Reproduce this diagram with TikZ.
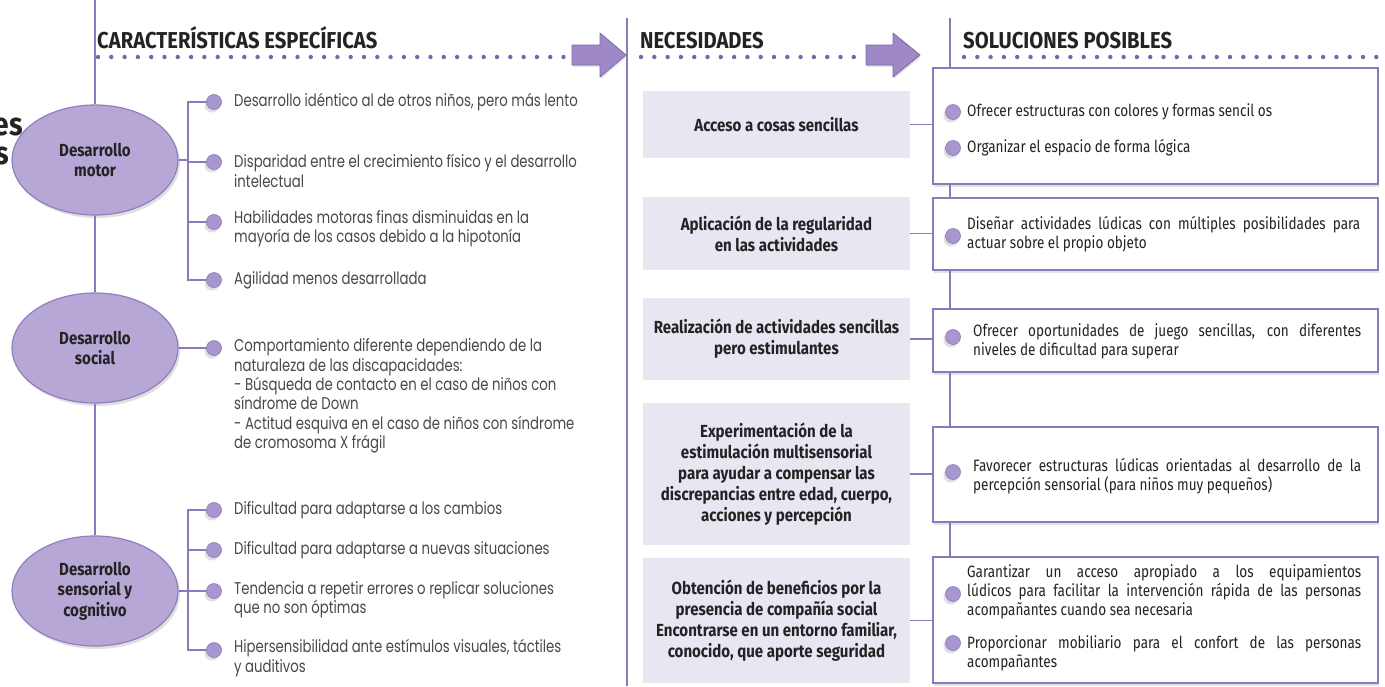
\documentclass[tikz,border=0pt]{standalone}
\usepackage{fontspec}
\setmainfont{Fira Sans}[FakeStretch=0.82]
\newfontfamily\geo{Poppins}[FakeStretch=0.78]
\newfontfamily\hfont{Fira Sans}[FakeStretch=0.88]
\newfontfamily\mfont{Fira Sans}[FakeStretch=0.86]
\usetikzlibrary{shapes.geometric,shadows,calc}
\definecolor{lineP}{RGB}{140,120,186}
\definecolor{ellF}{RGB}{183,167,214}
\definecolor{ellB}{RGB}{145,126,190}
\definecolor{bulF}{RGB}{168,150,208}
\definecolor{bulB}{RGB}{140,120,186}
\definecolor{boxF}{RGB}{233,230,242}
\definecolor{dotP}{RGB}{125,100,170}
\definecolor{arrF}{RGB}{158,137,198}
\definecolor{arrB}{RGB}{125,104,174}
\definecolor{txtG}{RGB}{72,72,72}
\definecolor{txtD}{RGB}{35,35,35}
\begin{document}
\begin{tikzpicture}[x=1pt,y=-1pt,
  conn/.style={draw=lineP, line width=1.6pt},
  ell/.style={ellipse, draw=ellB, line width=1.2pt, fill=ellF, minimum width=166pt, minimum height=110pt,
    inner sep=0pt, align=center, text=txtD, font=\mfont\fontsize{17.5}{20.5}\selectfont\bfseries,
    drop shadow={shadow xshift=2pt, shadow yshift=-3pt, opacity=0.25}},
  bul/.style={circle, fill=bulF, draw=bulB, line width=0.6pt, minimum size=15pt, inner sep=0pt,
    drop shadow={shadow xshift=-2pt, shadow yshift=-3pt, opacity=0.25}},
  itm/.style={anchor=west, inner sep=0pt, align=left, text=txtG, font=\geo\fontsize{17}{19.3}\selectfont},
  hdr/.style={anchor=base west, inner sep=0pt, text=txtD, font=\hfont\fontsize{23}{26}\selectfont\bfseries},
  mbox/.style={fill=boxF, minimum width=267pt, inner sep=0pt, align=center, text=txtD,
    font=\mfont\fontsize{17.5}{21}\selectfont\bfseries},
  rbox/.style={draw=lineP, line width=1.6pt, fill=white, minimum width=445pt, inner sep=0pt,
    drop shadow={shadow xshift=1pt, shadow yshift=-3pt, opacity=0.22}},
  rtxt/.style={anchor=west, inner sep=0pt, text=txtD, font=\fontsize{16.5}{19}\selectfont},
  dots/.style={draw=dotP, line width=4.4pt, line cap=round, dash pattern=on 0pt off 13.3pt},
  arr/.style={fill=arrF, draw=arrB, line width=0.8pt, line join=round,
    drop shadow={shadow xshift=1pt, shadow yshift=-2pt, opacity=0.2}}
]
\useasboundingbox (0,0) rectangle (1385,686);
\clip (0,0) rectangle (1385,686);
\fill[white] (0,0) rectangle (1385,686);

% clipped title fragment
\node[anchor=base east, inner sep=0pt, text=txtD, font=\hfont\fontsize{32}{30}\selectfont\bfseries] (tl1) at (23,135) {es};
\node[anchor=base east, inner sep=0pt, text=txtD, font=\hfont\fontsize{32}{30}\selectfont\bfseries] (tl2) at (9,164) {s};

% main vertical lines
\coordinate (ltop) at (95,0);
\coordinate (mtop) at (627,18);
\coordinate (mbot) at (627,686);
\coordinate (rtop) at (950,18);
\coordinate (br) at (188,0);
\draw[conn] (mtop) -- (mbot);

% headers and dotted rules
\node[hdr] (h1) at (97,48) {CARACTERÍSTICAS ESPECÍFICAS};
\node[hdr] (h2) at (640,48) {NECESIDADES};
\node[hdr] (h3) at (963,48) {SOLUCIONES POSIBLES};
\draw[dots] (98,57) -- (565,57);
\draw[dots] (641,57) -- (858,57);
\draw[dots] (964,57) -- (1392,57);

% block arrows
\coordinate (t1) at (626,55);
\coordinate (t2) at (920,55);
\filldraw[arr] (t1) -- ++(-26,-22) -- ++(0,12) -- ++(-28,0) -- ++(0,20) -- ++(28,0) -- ++(0,12) -- cycle;
\filldraw[arr] (t2) -- ++(-27,-22) -- ++(0,12) -- ++(-27,0) -- ++(0,20) -- ++(27,0) -- ++(0,12) -- cycle;

% ellipses
\node[ell] (e1) at (95,160) {Desarrollo\\motor};
\node[ell] (e2) at (95,348) {Desarrollo\\social};
\node[ell] (e3) at (95,591) {Desarrollo\\sensorial y\\cognitivo};
\draw[conn] (ltop) -- (e1.north);
\draw[conn] (e1.south) -- (e2.north);
\draw[conn] (e2.south) -- (e3.north);

% motor items
\node[bul] (a1) at (214,102) {};
\node[bul] (a2) at (214,162) {};
\node[bul] (a3) at (214,222) {};
\node[bul] (a4) at (214,280) {};
\draw[conn] (a1) -- (a1 -| br) |- (a4);
\draw[conn] (a2) -- (a2 -| br);
\draw[conn] (a3) -- (a3 -| br);
\draw[conn] (e1) -- (e1 -| br);
\node[itm] (ta1) at (234,102) {Desarrollo idéntico al de otros niños, pero más lento};
\node[itm] (ta2) at (234,171) {Disparidad entre el crecimiento físico y el desarrollo\\intelectual};
\node[itm] (ta3) at (234,229) {Habilidades motoras finas disminuidas en la\\mayoría de los casos debido a la hipotonía};
\node[itm] (ta4) at (234,280) {Agilidad menos desarrollada};

% social item
\node[bul] (b1) at (214,348) {};
\draw[conn] (e2) -- (b1);
\node[itm] (tb1) at (234,396) {Comportamiento diferente dependiendo de la\\naturaleza de las discapacidades:\\- Búsqueda de contacto en el caso de niños con\\síndrome de Down\\- Actitud esquiva en el caso de niños con síndrome\\de cromosoma X frágil};

% sensorial items
\node[bul] (c1) at (214,510) {};
\node[bul] (c2) at (214,550) {};
\node[bul] (c3) at (214,591) {};
\node[bul] (c4) at (214,650) {};
\draw[conn] (c1) -- (c1 -| br) |- (c4);
\draw[conn] (c2) -- (c2 -| br);
\draw[conn] (e3) -- (c3);
\node[itm] (tc1) at (234,510) {Dificultad para adaptarse a los cambios};
\node[itm] (tc2) at (234,550) {Dificultad para adaptarse a nuevas situaciones};
\node[itm] (tc3) at (234,600) {Tendencia a repetir errores o replicar soluciones\\que no son óptimas};
\node[itm] (tc4) at (234,658) {Hipersensibilidad ante estímulos visuales, táctiles\\y auditivos};

% needs
\node[mbox, minimum height=67pt] (m1) at (776.5,124.5) {Acceso a cosas sencillas};
\node[mbox, minimum height=73pt] (m2) at (776.5,233.5) {Aplicación de la regularidad\\en las actividades};
\node[mbox, minimum height=82pt] (m3) at (776.5,339) {Realización de actividades sencillas\\pero estimulantes};
\node[mbox, minimum height=142pt] (m4) at (776.5,474) {Experimentación de la\\estimulación multisensorial\\para ayudar a compensar las\\discrepancias entre edad, cuerpo,\\acciones y percepción};
\node[mbox, minimum height=125pt] (m5) at (776.5,620.5) {Obtención de beneficios por la\\presencia de compañía social\\Encontrarse en un entorno familiar,\\conocido, que aporte seguridad};

% solutions
\draw[conn] (rtop) -- (rtop |- 950,600);
\node[rbox, minimum height=116pt] (r1) at (1155.5,126) {};
\node[rbox, minimum height=72pt] (r2) at (1155.5,234) {};
\node[rbox, minimum height=63pt] (r3) at (1155.5,340.5) {};
\node[rbox, minimum height=95pt] (r4) at (1155.5,474.5) {};
\node[rbox, minimum height=126pt] (r5) at (1155.5,620) {};
\draw[conn] (m1.east) -- (m1.east -| r1.west);
\draw[conn] (m2.east) -- (m2.east -| r2.west);
\draw[conn] (m3.east) -- (m3.east -| r3.west);
\draw[conn] (m4.east) -- (m4.east -| r4.west);
\draw[conn] (m5.east) -- (m5.east -| r5.west);

\node[bul] (q11) at (953,112) {};
\node[bul] (q12) at (953,148) {};
\node[bul] (q2) at (953,236) {};
\node[bul] (q3) at (953,337) {};
\node[bul] (q4) at (953,472) {};
\node[bul] (q51) at (953,594) {};
\node[bul] (q52) at (953,643) {};
\node[rtxt] (s11) at (967,112) {Ofrecer estructuras con colores y formas sencil os};
\node[rtxt] (s12) at (967,148) {Organizar el espacio de forma lógica};
\node[rtxt, text width=393pt, align=justify] (s2) at (967,234) {Diseñar actividades lúdicas con múltiples posibilidades para\linebreak actuar sobre el propio objeto};
\node[rtxt, text width=388pt, align=justify] (s3) at (973,341.5) {Ofrecer oportunidades de juego sencillas, con diferentes\linebreak niveles de dificultad para superar};
\node[rtxt, text width=388pt, align=justify] (s4) at (973,476) {Favorecer estructuras lúdicas orientadas al desarrollo de la\linebreak percepción sensorial (para niños muy pequeños)};
\node[rtxt, text width=394pt, align=justify] (s51) at (967,592) {Garantizar un acceso apropiado a los equipamientos\linebreak lúdicos para facilitar la intervención rápida de las personas\linebreak acompañantes cuando sea necesaria};
\node[rtxt, text width=394pt, align=justify] (s52) at (967,653) {Proporcionar mobiliario para el confort de las personas\linebreak acompañantes};
\end{tikzpicture}
\end{document}
